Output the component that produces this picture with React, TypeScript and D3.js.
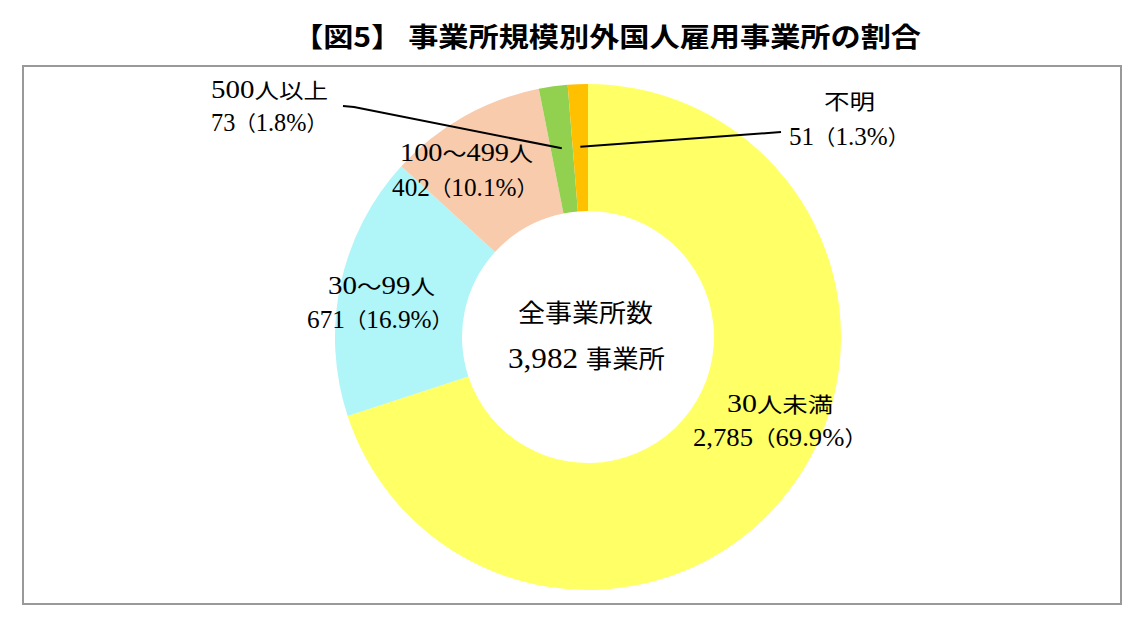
import * as d3 from "d3";

const categories = ["30人未満", "30～99人", "100～499人", "500人以上", "不明"];
const counts = [2785, 671, 402, 73, 51];
const colors = ["#FFFF66", "#B0F5F8", "#F8CBAD", "#92D050", "#FFC000"];
const title = "【図5】 事業所規模別外国人雇用事業所の割合";
const centerTitle = "全事業所数";
const centerUnit = "事業所";

const W = 1148;
const H = 624;
const cx = 588;
const cy = 337;
const rOuter = 253;
const rInner = 126;

const FONT = "'Liberation Serif', 'Noto Sans CJK JP', serif";

// label layout: [x of name, baseline, width, x of value, baseline, width]
const LABELS: Record<string, number[]> = {
  "30人未満": [727, 412, 106, 693, 446, 174],
  "30～99人": [328, 294, 107, 307, 328, 146],
  "100～499人": [400, 161, 133, 392, 196, 146],
  "500人以上": [211, 98, 117, 211, 131, 116],
  "不明": [824, 109, 51, 789, 145, 120],
};

// leader lines start (outside end) for the small slices
const LEADERS: Record<string, [number, number][]> = {
  "500人以上": [[343, 106], [354, 107]],
  "不明": [[781, 132]],
};

// Mincho digits in the original are taller than the CJK glyphs of the fallback font,
// so half-width runs get a bigger size
function Runs({ s, size }: { s: string; size: number }) {
  const parts = s.match(/[\x20-\x7e]+|[^\x20-\x7e]+/g) ?? [];
  return (
    <>
      {parts.map((p, i) => (
        <tspan key={i} fontSize={/^[\x20-\x7e]/.test(p) ? size * 1.18 : size}>
          {p}
        </tspan>
      ))}
    </>
  );
}

export default function App() {
  const total = d3.sum(counts);
  const pie = d3
    .pie<number>()
    .sort(null)
    .value((d) => d)
    .startAngle(0)
    .endAngle(2 * Math.PI);
  const arcs = pie(counts);
  const arc = d3.arc<d3.PieArcDatum<number>>().innerRadius(rInner).outerRadius(rOuter);
  const mid = d3.arc<d3.PieArcDatum<number>>().innerRadius(rInner).outerRadius(rOuter + 2);
  const fmtInt = d3.format(",");
  const fmtPct = d3.format(".1f");

  return (
    <svg width={W} height={H} style={{ position: "absolute", left: 0, top: 0, background: "#fff" }}>
      <text
        x={607}
        y={47}
        textAnchor="middle"
        fontFamily="'Noto Sans CJK JP', sans-serif"
        fontWeight="bold"
        fontSize={27}
        textLength={628}
        lengthAdjust="spacingAndGlyphs"
        fill="#000"
      >
        {title}
      </text>
      <rect x={23} y={66} width={1098} height={538} fill="#fff" stroke="#999" strokeWidth={2} />

      <g transform={`translate(${cx},${cy})`}>
        {arcs.map((a, i) => (
          <path key={categories[i]} d={arc(a) ?? ""} fill={colors[i]} />
        ))}
      </g>

      {arcs.map((a, i) => {
        const name = categories[i];
        const pts = LEADERS[name];
        if (!pts) return null;
        const [mx, my] = mid.centroid(a);
        const all = [...pts, [cx + mx, cy + my] as [number, number]];
        return (
          <path
            key={"l" + name}
            d={d3.line()(all) ?? ""}
            fill="none"
            stroke="#000"
            strokeWidth={2}
          />
        );
      })}

      <g fontFamily={FONT} fill="#000">
        {categories.map((name, i) => {
          const [x1, y1, w1, x2, y2, w2] = LABELS[name];
          const value = `${fmtInt(counts[i])}（${fmtPct((counts[i] / total) * 100)}%）`;
          return (
            <g key={"t" + name}>
              <text x={x1} y={y1} textLength={w1} lengthAdjust="spacingAndGlyphs">
                <Runs s={name} size={21} />
              </text>
              <text x={x2} y={y2} textLength={w2} lengthAdjust="spacingAndGlyphs">
                <Runs s={value} size={21} />
              </text>
            </g>
          );
        })}
      </g>

      <g fontFamily={FONT} fill="#000">
        <text x={518} y={322} textLength={135} lengthAdjust="spacingAndGlyphs">
          <Runs s={centerTitle} size={25} />
        </text>
        <text x={508} y={368} textLength={157} lengthAdjust="spacingAndGlyphs">
          <Runs s={`${fmtInt(total)} ${centerUnit}`} size={25} />
        </text>
      </g>
    </svg>
  );
}
